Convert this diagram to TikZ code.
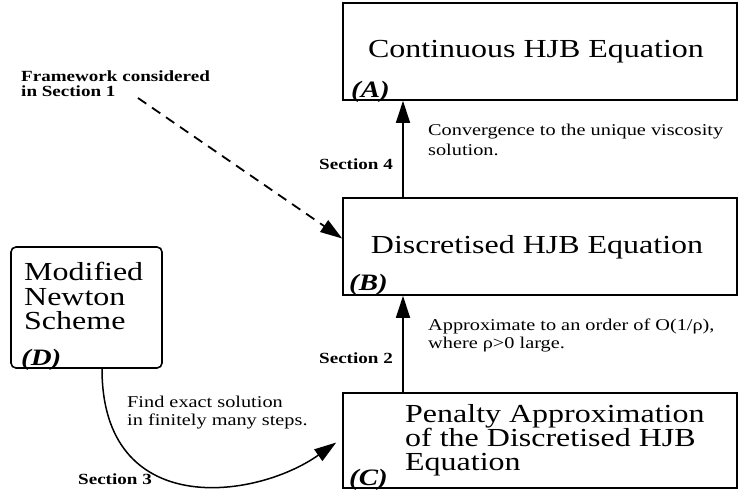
\documentclass[tikz,border=0pt]{standalone}
\usepackage{fontspec}
\setmainfont{Liberation Serif}[FakeStretch=1.23]
\usetikzlibrary{arrows.meta}
\tikzset{
  box/.style={draw, line width=1.6pt, inner sep=0pt},
  big/.style={font=\fontsize{26}{26}\selectfont, inner sep=0pt, anchor=base west},
  lab/.style={font=\fontsize{23.5}{23.5}\selectfont\bfseries\itshape, inner sep=0pt, anchor=base west},
  note/.style={font=\fontsize{16.5}{16.5}\selectfont, inner sep=0pt, anchor=base west},
  sec/.style={font=\fontsize{15.5}{15.5}\selectfont\bfseries, inner sep=0pt},
  arr/.style={line width=1.5pt, -{Triangle[length=22pt,width=14pt]}},
}
\begin{document}
\begin{tikzpicture}[x=1pt,y=-1pt]
\useasboundingbox (0,0) rectangle (738,491);
% boxes
\node[box, minimum width=394pt, minimum height=97pt] (A) at (540,51.5) {};
\node[box, minimum width=394pt, minimum height=97pt] (B) at (540,246.5) {};
\node[box, minimum width=394pt, minimum height=95pt] (C) at (540,440.5) {};
\node[box, rounded corners=5pt, minimum width=151pt, minimum height=121pt] (D) at (86.5,307.5) {};
% box texts
\node[big, anchor=base] (tA) at (536,57) {Continuous HJB Equation};
\node[lab] (lA) at (351,97) {(A)};
\node[big, anchor=base] (tB) at (537,253) {Discretised HJB Equation};
\node[lab] (lB) at (349,290) {(B)};
\node[big] (tC1) at (405,422) {Penalty Approximation};
\node[big] (tC2) at (405,446) {of the Discretised HJB};
\node[big] (tC3) at (405,470) {Equation};
\node[lab] (lC) at (349,485) {(C)};
\node[big] (tD1) at (24,280) {Modified};
\node[big] (tD2) at (24,305) {Newton};
\node[big] (tD3) at (24,329) {Scheme};
\node[lab] (lD) at (21,365) {(D)};
% notes
\node[note] (n1) at (428,135) {Convergence to the unique viscosity};
\node[note] (n2) at (428,155) {solution.};
\node[note] (n3) at (428,330) {Approximate to an order of O(1/ρ),};
\node[note] (n4) at (428,348) {where ρ>0 large.};
\node[note] (n5) at (127,407) {Find exact solution};
\node[note] (n6) at (127,425) {in finitely many steps.};
\node[sec, anchor=base west] (f1) at (21,81) {Framework considered};
\node[sec, anchor=base west] (f2) at (21,96) {in Section 1};
\node[sec, anchor=base east] (s4) at (393,169) {Section 4};
\node[sec, anchor=base east] (s2) at (393,363) {Section 2};
\node[sec, anchor=base west] (s3) at (78,484) {Section 3};
% connectors
\coordinate (fw) at (138,98);
\draw[arr] ([xshift=-137pt]B.north) -- ([xshift=-137pt]A.south);
\draw[arr] ([xshift=-137pt]C.north) -- ([xshift=-137pt]B.south);
\draw[arr, dash pattern=on 10pt off 7pt, line width=1.8pt] (fw) -- ([yshift=8pt]B.west);
\draw[arr] ([xshift=15.5pt]D.south) .. controls (102,520) and (255,500) .. ([xshift=-6pt,yshift=-2pt]C.west);
\end{tikzpicture}
\end{document}
